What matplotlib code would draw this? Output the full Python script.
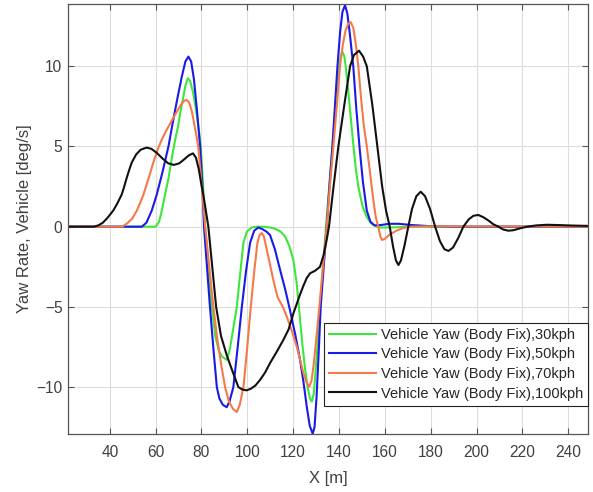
import matplotlib
matplotlib.use("Agg")
import matplotlib.pyplot as plt

plt.rcParams["font.family"] = ["Liberation Sans", "DejaVu Sans"]

# Yaw rate vs distance
x_30 = [22, 60, 61.5, 62.7, 64.1, 65.6, 67.2, 68.5, 69.7, 71, 72.1, 73, 74, 75, 76.3,
        77.5, 78.7, 79.7, 80.7, 81.6, 83, 84.5, 86, 87.5, 89, 91, 92.3, 93.8, 95.4,
        96.9, 98.3, 99.8, 101.9, 104, 107, 110, 112.5, 114.5, 116.5, 118.3, 120.1,
        121.5, 123, 124.2, 125.2, 126.3, 127.3, 128.1, 129, 130.3, 131.7, 133, 134.3,
        135.7, 137.1, 138.6, 140.1, 140.9, 141.6, 142.3, 142.9, 143.9, 145.1, 146.3,
        147.4, 148.4, 150.2, 152.1, 154, 155.7, 158, 163, 170, 248.6]
y_30 = [0, 0, 0.3, 1.0, 2.0, 3.0, 4.4, 5.4, 6.2, 7.3, 8.1, 8.8, 9.25, 9.1, 8.4,
        7.4, 6.2, 5.0, 2.6, 0.0, -2.5, -5.0, -6.8, -7.7, -8.1, -8.3, -7.7, -6.4, -5.0,
        -2.9, -1.0, -0.3, -0.05, 0.0, 0.0, -0.05, -0.15, -0.3, -0.62, -1.2, -2.1,
        -3.5, -5.8, -7.6, -8.9, -10.0, -10.7, -10.9, -10.4, -8.0, -5.0, -2.5, 0.0,
        2.5, 5.0, 7.5, 10.0, 10.7, 10.87, 10.6, 10.0, 8.6, 6.8, 5.0,
        3.5, 2.5, 1.3, 0.6, 0.2, 0.05, -0.05, -0.05, 0.0, 0.0]

x_50 = [22, 54, 56, 58.3, 60.5, 63, 65.6, 67.5, 69.5, 71.5, 73, 74.3, 75.5, 76.7, 78,
        79.4, 80.3, 81.1, 82.4, 83.7, 85.2, 86.7, 87.8, 89.3, 91, 92.2, 93.9, 95.8,
        97.6, 99.4, 101.2, 103, 104.8, 106.5, 108.3, 109.9, 112, 114.3, 116.5, 118.6,
        121, 123, 124.5, 125.9, 127.2, 128.5, 129.3, 130.2, 131.1, 132, 133.3, 134.6,
        135.8, 137.1, 138.2, 139.3, 140.5, 141.5, 142.6, 143.6, 144.8, 146.2, 147.5,
        148.9, 150.4, 152.1, 153.7, 155.5, 158, 162, 166, 172, 180, 190, 248.6]
y_50 = [0, 0, 0.25, 1.0, 2.0, 3.4, 5.0, 6.5, 8.0, 9.4, 10.3, 10.6, 10.3, 9.2, 7.3,
        5.0, 2.8, 0.0, -2.5, -5.0, -7.6, -10.0, -10.7, -11.1, -11.25, -10.9, -10.0, -7.5,
        -5.0, -2.8, -1.0, -0.25, -0.05, -0.15, -0.3, -0.52, -1.4, -2.7, -3.9, -5.2,
        -6.8, -8.3, -9.7, -11.2, -12.4, -12.9, -12.5, -10.6, -7.9, -5.0, -2.5, 0.0,
        2.5, 5.0, 7.5, 10.0, 12.2, 13.4, 13.8, 13.3, 11.9, 10.0, 7.4,
        5.0, 2.8, 1.0, 0.3, 0.08, 0.1, 0.18, 0.18, 0.1, 0.03, 0.0, 0.0]

x_70 = [22, 45.5, 47.5, 49.8, 51.8, 53.3, 54.7, 56.9, 59, 61, 62.9, 64.9, 67, 69, 71,
        72.5, 73.5, 74.6, 75.8, 77, 78.6, 80.1, 81.6, 83.4, 85.2, 86.9, 88.6, 90.3,
        92, 93.7, 95.4, 96.7, 98.3, 99.9, 101.5, 103, 104.4, 105.4, 106.3, 107.2,
        109.2, 111.3, 113.2, 115.5, 117.2, 119.4, 121.6, 123, 124.4, 125.8, 127, 128,
        129, 130.2, 131.4, 133, 134.6, 136, 137.5, 139, 140.4, 141.6, 142.8, 144,
        145.1, 146.2, 147.3, 148.4, 149.6, 150.8, 152.1, 153.4, 155, 156, 157.1, 158,
        158.8, 160, 162, 165, 168, 171, 180, 190, 248.6]
y_70 = [0, 0, 0.2, 0.5, 1.0, 1.5, 2.0, 3.0, 4.0, 4.85, 5.5, 6.05, 6.6, 7.1, 7.6,
        7.85, 7.9, 7.75, 7.2, 6.3, 5.0, 2.6, 0.0, -2.5, -5.0, -7.0, -8.6, -10.0,
        -10.9, -11.35, -11.55, -11.1, -10.0, -7.6, -5.0, -2.8, -1.0, -0.5, -0.4, -0.6,
        -1.9, -3.3, -4.4, -5.0, -5.6, -6.5, -7.5, -8.3, -9.1, -9.7, -9.97, -9.6,
        -8.5, -6.8, -5.0, -2.5, 0.0, 2.5, 5.0, 7.5, 10.0, 11.3, 12.2, 12.65,
        12.75, 12.4, 11.4, 10.0, 8.0, 6.3, 5.0, 3.5, 1.6, 0.6, 0.0, -0.6,
        -0.83, -0.75, -0.5, -0.25, -0.08, 0.0, 0.03, 0.02, 0.0]

x_100 = [22, 33, 35, 37, 39, 41.5, 43.3, 45.2, 46.2, 47.3, 48.4, 49.6, 51.5, 53.5, 56.1,
         58.2, 60.5, 63, 65.5, 68, 70.3, 72.5, 74.5, 76.3, 77.6, 78.8, 80, 80.8, 83,
         84.7, 86.4, 88.5, 91, 93.5, 96.1, 97.9, 99.7, 101.5, 103.5, 105.5, 107.7,
         109.9, 112.8, 115.7, 118, 120.1, 122.8, 124.4, 125.9, 127.4, 129.5, 131.7,
         133.2, 134.6, 135.6, 137.6, 139.7, 142.2, 144.8, 146.5, 148.7, 150.5, 152.1,
         154.5, 156.7, 158.8, 160.5, 162.1, 163.5, 164.8, 165.9, 167, 168.5, 170.2,
         171.8, 173.7, 175.6, 177.5, 179.7, 181.9, 184, 185.9, 187.7, 189.7, 192,
         194.2, 196.5, 198.6, 200.7, 202.8, 205, 207.3, 209.5, 211.5, 213.8, 216, 219,
         222, 226, 230.6, 236, 242, 248.6]
y_100 = [0, 0, 0.08, 0.25, 0.55, 1.0, 1.45, 2.0, 2.45, 3.0, 3.5, 4.0, 4.5, 4.8, 4.93,
         4.85, 4.6, 4.25, 3.95, 3.85, 3.95, 4.2, 4.45, 4.57, 4.3, 3.6, 2.6, 2.0, 0.0,
         -2.5, -5.0, -6.8, -8.0, -9.0, -10.0, -10.15, -10.2, -10.1, -9.9, -9.56, -9.1,
         -8.5, -7.8, -7.06, -6.4, -5.4, -4.3, -3.7, -3.2, -2.9, -2.75, -2.5,
         -1.8, -0.83, 0.0, 2.5, 5.0, 7.5, 10.0, 10.7, 10.97, 10.6, 10.0,
         7.6, 5.0, 2.5, 1.0, 0.0, -1.2, -2.1, -2.39, -2.1, -1.2, 0.0,
         1.1, 1.9, 2.18, 1.9, 1.1, 0.0, -0.9, -1.4, -1.51, -1.3, -0.7,
         0.0, 0.45, 0.68, 0.73, 0.6, 0.4, 0.15, 0.0, -0.17, -0.25, -0.22, -0.1,
         0.0, 0.08, 0.12, 0.1, 0.07, 0.05]

labels = ["Vehicle Yaw (Body Fix),30kph", "Vehicle Yaw (Body Fix),50kph",
          "Vehicle Yaw (Body Fix),70kph", "Vehicle Yaw (Body Fix),100kph"]
colors = ["#3de63d", "#1a1ae6", "#f5794a", "#111111"]

fig = plt.figure(figsize=(5.93, 4.92), dpi=100)
ax = fig.add_axes([0.1147, 0.1179, 0.877, 0.874])

series = [(x_30, y_30), (x_50, y_50), (x_70, y_70), (x_100, y_100)]
for (xs, ys), lab, col in zip(series, labels, colors):
    ax.plot(xs, ys, color=col, linewidth=1.5, label=lab, solid_joinstyle="round")

ax.set_xlim(21.8, 248.6)
ax.set_ylim(-12.92, 13.88)
ax.set_xticks(range(40, 241, 20))
ax.set_yticks([-10, -5, 0, 5, 10])
ax.grid(True, color="#dcdcdc", linewidth=0.8)
ax.set_axisbelow(True)

for sp in ax.spines.values():
    sp.set_color("#555555")
    sp.set_linewidth(0.9)
ax.tick_params(direction="in", top=True, right=True, length=4, width=0.8,
               color="#555555", labelcolor="#404040", labelsize=11.2)
ax.tick_params(axis="x", pad=8)
ax.tick_params(axis="y", pad=4)

ax.set_xlabel("X [m]", fontsize=12, color="#404040", labelpad=8)
ax.set_ylabel("Yaw Rate, Vehicle [deg/s]", fontsize=12, color="#404040", labelpad=3)

leg = ax.legend(loc="lower right", bbox_to_anchor=(1.0, 0.066), fontsize=10.5,
                fancybox=False, framealpha=1, edgecolor="#222222", borderaxespad=0,
                handlelength=3.2, handletextpad=0.35, labelspacing=0.38, borderpad=0.35)
leg.get_frame().set_linewidth(0.8)
for t in leg.get_texts():
    t.set_color("#262626")

plt.savefig("out.png", dpi=100)
plt.close()
